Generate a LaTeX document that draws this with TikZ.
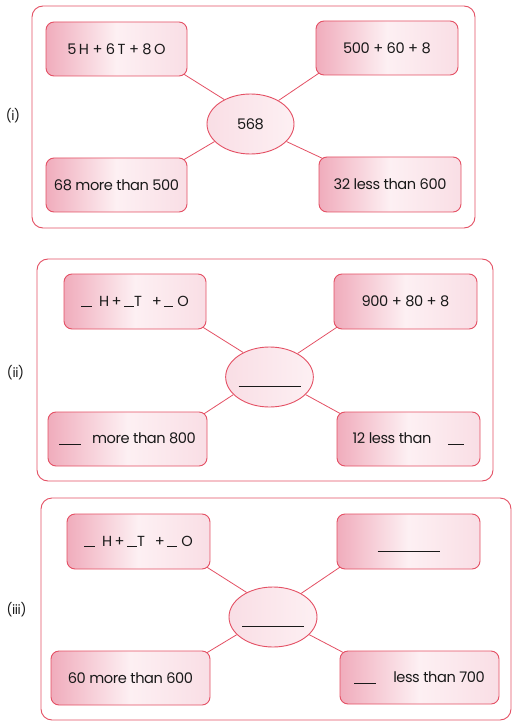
\documentclass[tikz,border=0pt]{standalone}
\usepackage{fontspec}
\setmainfont{Poppins}[LetterSpace=-3]
\usetikzlibrary{shapes.geometric,calc}
\pgfdeclarelayer{back}
\pgfdeclarelayer{mid}
\pgfsetlayers{back,mid,main}
\definecolor{myred}{RGB}{228,80,100}
\definecolor{pinkdark}{RGB}{240,172,188}
\definecolor{pinkmid}{RGB}{249,222,229}
\definecolor{pinklight}{RGB}{253,240,243}
\definecolor{txt}{RGB}{25,25,25}
\newcommand{\bl}[1]{\rule[-1pt]{#1pt}{0.9pt}}
\newcommand{\lowbl}[1]{\raisebox{-10pt}[0pt][0pt]{\rule{#1pt}{0.9pt}}}
\tikzset{
  panel/.style={draw=myred, line width=0.9pt, rounded corners=11pt, fill=white, rectangle, inner sep=0pt},
  card/.style={draw=myred, line width=0.9pt, rounded corners=8pt, rectangle, inner sep=0pt,
    left color=pinkdark, right color=pinkmid, middle color=pinklight, text=txt,
    font=\fontsize{14.6}{16}\selectfont},
  hub/.style={ellipse, draw=myred, line width=0.9pt, inner sep=0pt,
    left color=pinkmid, right color=pinklight, text=txt,
    font=\fontsize{14.6}{16}\selectfont},
  link/.style={draw=myred, line width=0.8pt},
  tag/.style={text=txt, font=\fontsize{13}{15}\selectfont}
}
\begin{document}
\begin{tikzpicture}[x=1pt,y=-1pt]
\useasboundingbox (0,0) rectangle (522,727);
\begin{pgfonlayer}{back}
\fill[white] (0,0) rectangle (522,727);
\node[panel, minimum width=443pt, minimum height=222pt] (p1) at (253.5,117) {};
\node[panel, minimum width=456pt, minimum height=222pt] (p2) at (265,370) {};
\node[panel, minimum width=470pt, minimum height=222pt] (p3) at (276,609) {};
\end{pgfonlayer}
% ---------- panel (i)
\node[tag] (l1) at (13,116) {(i)};
\node[card, minimum width=141pt, minimum height=54pt] (a1) at (116.5,49) {5\,H + 6\,T + 8\,O};
\node[card, minimum width=142pt, minimum height=54pt] (b1) at (387,48) {500 + 60 + 8};
\node[card, minimum width=141pt, minimum height=54pt] (c1) at (116.5,185) {68 more than 500};
\node[card, minimum width=142pt, minimum height=55pt] (d1) at (390,184.5) {32 less than 600};
\node[hub, minimum width=87pt, minimum height=60pt] (e1) at (250.5,124) {568};
% ---------- panel (ii)
\node[tag] (l2) at (15.5,373) {(ii)};
\node[card, minimum width=142pt, minimum height=55pt] (a2) at (135,301.5) {\bl{11}\hspace{7pt}H\,+\,\bl{10}T\hspace{10pt}+\,\bl{9}\hspace{4pt}O};
\node[card, minimum width=143pt, minimum height=55pt] (b2) at (405.5,301.5) {900 + 80 + 8};
\node[card, minimum width=159pt, minimum height=54pt] (c2) at (127.5,439) {\bl{22}\hspace{11pt}more than 800};
\node[card, minimum width=143pt, minimum height=54pt] (d2) at (408.5,439) {12 less than\hspace{17pt}\bl{16}};
\node[hub, minimum width=87pt, minimum height=60pt] (e2) at (269.5,377) {\lowbl{62}};
% ---------- panel (iii)
\node[tag] (l3) at (16.5,610) {(iii)};
\node[card, minimum width=143pt, minimum height=55pt] (a3) at (138.5,541.5) {\bl{11}\hspace{7pt}H\,+\,\bl{10}T\hspace{10pt}+\,\bl{10}\hspace{4pt}O};
\node[card, minimum width=143pt, minimum height=55pt] (b3) at (408.5,541.5) {\lowbl{62}};
\node[card, minimum width=159pt, minimum height=54pt] (c3) at (130.5,678) {60 more than 600};
\node[card, minimum width=159pt, minimum height=53pt] (d3) at (419.5,677.5) {\bl{22}\hspace{17pt}less than 700};
\node[hub, minimum width=88pt, minimum height=60pt] (e3) at (273,617) {\lowbl{62}};
% ---------- connectors (behind the cards, above the panels)
\begin{pgfonlayer}{mid}
\foreach \i in {1,2,3}{
  \draw[link] (e\i.137) -- ($(e\i.137)!1.2!(a\i.south east)$);
  \draw[link] (e\i.40) -- ($(e\i.40)!1.2!(b\i.south west)$);
  \draw[link] (e\i.206) -- ($(e\i.206)!1.2!(c\i.north east)$);
  \draw[link] (e\i.334) -- ($(e\i.334)!1.2!(d\i.north west)$);
}
\end{pgfonlayer}
\end{tikzpicture}
\end{document}
